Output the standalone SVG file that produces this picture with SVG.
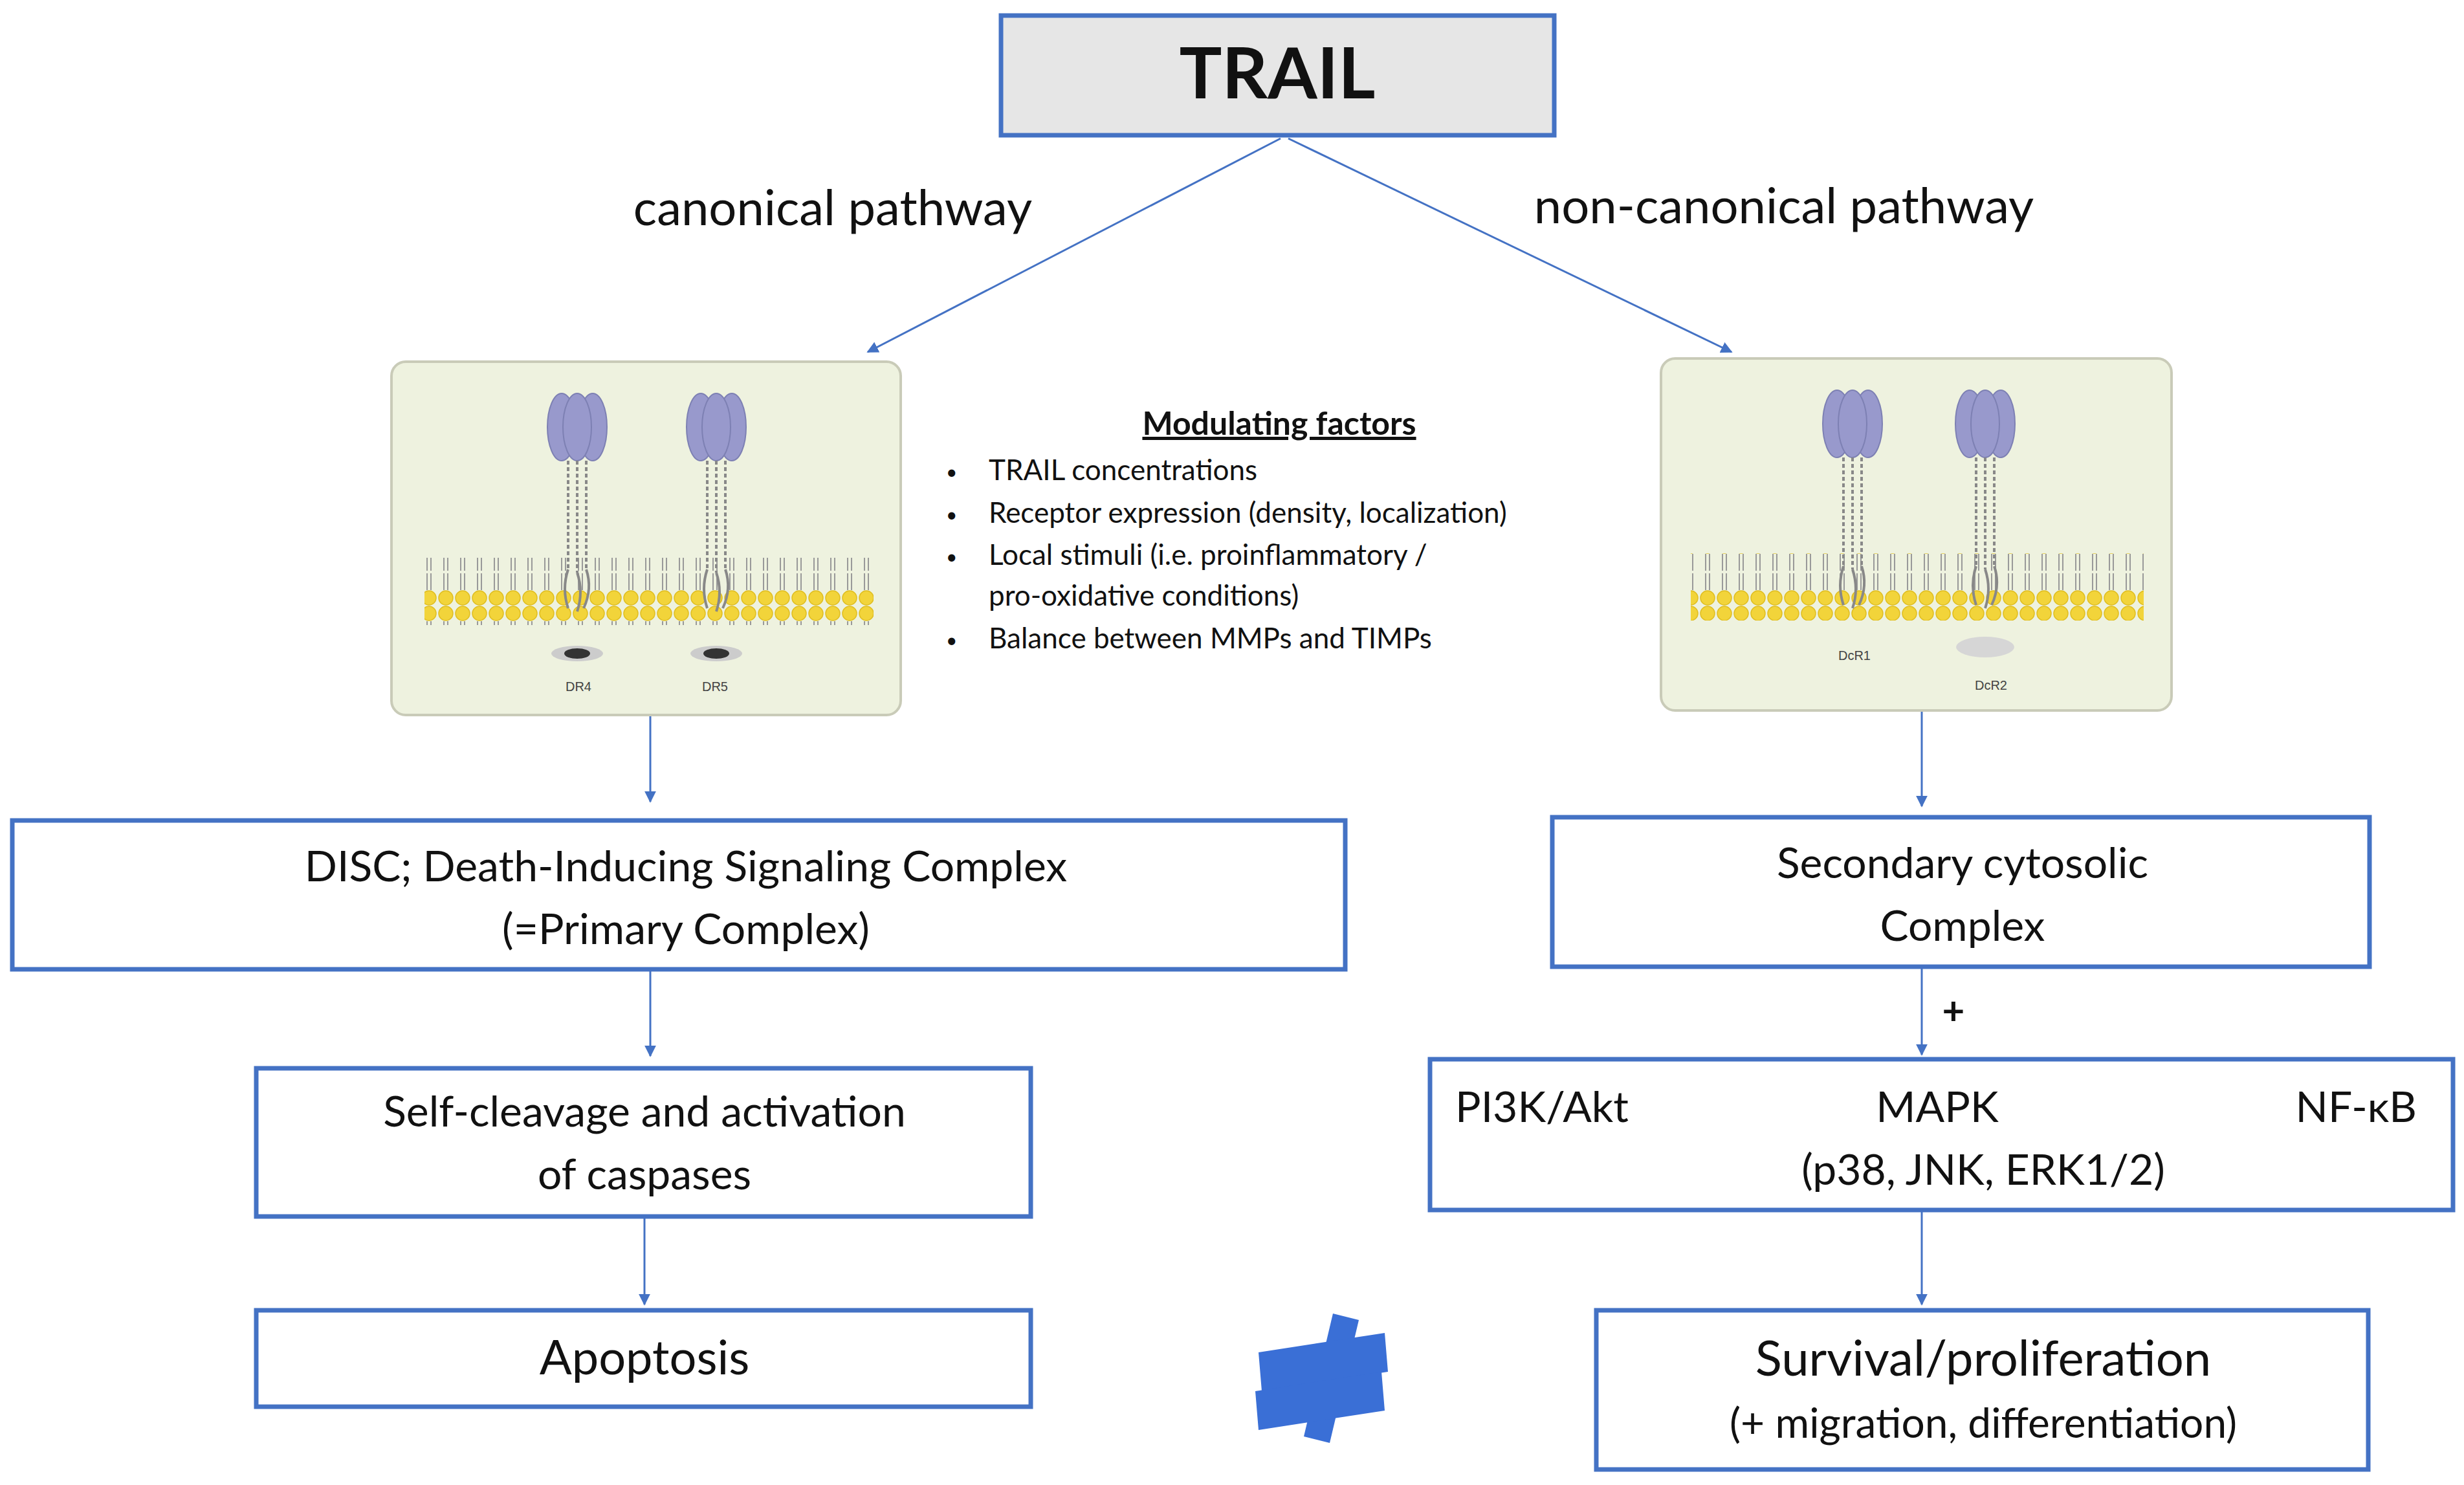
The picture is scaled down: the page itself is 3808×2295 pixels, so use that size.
<svg xmlns="http://www.w3.org/2000/svg" width="3808" height="2295" viewBox="0 0 3808 2295">
<style>
.box{fill:#fff;stroke:#4472C4;stroke-width:7}
.t{font-family:Lato,"Liberation Sans",sans-serif;fill:#111;text-anchor:middle}
.c{stroke:#4472C4;stroke-width:3;fill:none;marker-end:url(#ah)}
.cell{fill:#eef2df;stroke:#c9cbb8;stroke-width:4}
.rec{fill:#9899cc;stroke:#7d80b3;stroke-width:2}
.stalk{stroke:#888;stroke-width:4;fill:none;stroke-dasharray:6 4}
.lab{font-family:"Liberation Sans",sans-serif;font-size:20px;fill:#444;text-anchor:middle}
</style>
<defs>
<marker id="ah" viewBox="0 0 10 10" refX="9" refY="5" markerWidth="6" markerHeight="6" orient="auto"><path d="M0,0L10,5L0,10z" fill="#4472C4"/></marker>
<pattern id="lip" x="0" y="0" width="26" height="104" patternUnits="userSpaceOnUse">
<circle cx="13" cy="12" r="11" fill="#f2d43a" stroke="#e0be20" stroke-width="1.5"/>
<path d="M10,24V50M16,24V50M10,54V80M16,54V80" stroke="#999" stroke-width="2"/>
<circle cx="13" cy="92" r="11" fill="#f2d43a" stroke="#e0be20" stroke-width="1.5"/>
</pattern>
<g id="rec3">
<ellipse cx="-24" cy="0" rx="22" ry="52" class="rec"/>
<ellipse cx="24" cy="0" rx="22" ry="52" class="rec"/>
<ellipse cx="0" cy="0" rx="22" ry="52" class="rec"/>
<path d="M-14,52V220 M0,52V225 M14,52V220" class="stalk"/>
<path d="M-14,220q-10,30 0,60 M0,225q10,30 0,60 M14,220q10,30 -4,60" stroke="#888" stroke-width="4" fill="none"/>
</g>
</defs>
<g id="trail"><rect x="1547" y="24" width="855" height="185" fill="#e6e6e6" stroke="#4472C4" stroke-width="7"/><text class="t" x="1974" y="152" font-size="110" font-weight="bold">TRAIL</text></g>
<g id="labels">
<text class="t" x="1287" y="348" font-size="76">canonical pathway</text>
<text class="t" x="2757" y="345" font-size="76">non-canonical pathway</text>
</g>
<g id="connectors">
<path class="c" d="M1979,214L1341,544"/>
<path class="c" d="M1991,214L2676,544"/>
<path class="c" d="M1005,1105V1239"/>
<path class="c" d="M2970,1098V1246"/>
<path class="c" d="M1005,1498V1632"/>
<path class="c" d="M996,1880V2016"/>
<path class="c" d="M2970,1494V1630"/>
<path class="c" d="M2970,1870V2016"/>
</g>
<g id="dr-cell">
<rect class="cell" x="605" y="559" width="787" height="546" rx="22"/>
<rect x="656" y="862" width="694" height="104" fill="url(#lip)"/>
<use href="#rec3" x="892" y="660"/>
<use href="#rec3" x="1107" y="660"/>
<ellipse cx="892" cy="1010" rx="40" ry="12" fill="#ccc"/><ellipse cx="892" cy="1010" rx="20" ry="8" fill="#333"/>
<ellipse cx="1107" cy="1010" rx="40" ry="12" fill="#ccc"/><ellipse cx="1107" cy="1010" rx="20" ry="8" fill="#333"/>
<text class="lab" x="894" y="1068">DR4</text><text class="lab" x="1105" y="1068">DR5</text>
</g>
<g id="dcr-cell">
<rect class="cell" x="2567" y="554" width="789" height="544" rx="22"/>
<rect x="2613" y="855" width="700" height="104" fill="url(#lip)"/>
<use href="#rec3" x="2863" y="655"/>
<use href="#rec3" x="3068" y="655"/>
<ellipse cx="3068" cy="1000" rx="45" ry="16" fill="#d6d6d6"/>
<text class="lab" x="2866" y="1020">DcR1</text><text class="lab" x="3077" y="1066">DcR2</text>
</g>
<g id="modulating" font-family="Lato,'Liberation Sans',sans-serif" font-size="44" fill="#111">
<text x="1977" y="672" font-size="50" font-weight="bold" text-anchor="middle" text-decoration="underline">Modulating factors</text>
<g font-size="30"><text x="1462" y="740">•</text><text x="1462" y="806">•</text><text x="1462" y="871">•</text><text x="1462" y="1000">•</text></g>
<text x="1528" y="742">TRAIL concentrations</text>
<text x="1528" y="808">Receptor expression (density, localization)</text>
<text x="1528" y="873">Local stimuli (i.e. proinflammatory /</text>
<text x="1528" y="936">pro-oxidative conditions)</text>
<text x="1528" y="1002">Balance between MMPs and TIMPs</text>
</g>
<g id="disc"><rect class="box" x="19" y="1268" width="2060" height="230"/>
<text class="t" x="1060" y="1362" font-size="66">DISC; Death-Inducing Signaling Complex</text>
<text class="t" x="1060" y="1459" font-size="66">(=Primary Complex)</text></g>
<g id="secondary"><rect class="box" x="2399" y="1263" width="1263" height="231"/>
<text class="t" x="3033" y="1357" font-size="66">Secondary cytosolic</text>
<text class="t" x="3033" y="1454" font-size="66">Complex</text></g>
<g id="caspases"><rect class="box" x="396" y="1651" width="1197" height="229"/>
<text class="t" x="996" y="1741" font-size="66">Self-cleavage and activation</text>
<text class="t" x="996" y="1838" font-size="66">of caspases</text></g>
<g id="apoptosis"><rect class="box" x="396" y="2025" width="1197" height="149"/>
<text class="t" x="996" y="2124" font-size="74">Apoptosis</text></g>
<g id="plus"><text class="t" x="3019" y="1583" font-size="60" font-weight="bold">+</text></g>
<g id="kinases"><rect class="box" x="2210" y="1637" width="1581" height="233"/>
<text class="t" x="2249" y="1734" font-size="66" text-anchor="start" style="text-anchor:start">PI3K/Akt</text>
<text class="t" x="2994" y="1734" font-size="66">MAPK</text>
<text class="t" x="3735" y="1734" font-size="66" style="text-anchor:end">NF-κB</text>
<text class="t" x="3065" y="1831" font-size="66">(p38, JNK, ERK1/2)</text></g>
<g id="survival"><rect class="box" x="2467" y="2025" width="1193" height="246"/>
<text class="t" x="3065" y="2126" font-size="76">Survival/proliferation</text>
<text class="t" x="3065" y="2222" font-size="64">(+ migration, differentiation)</text></g>
<g id="not-equal" fill="#3a6fd6">
<path d="M2060,2030L2100,2040L2055,2230L2015,2220Z"/>
<path d="M1945,2090L2140,2060L2145,2120L1950,2150Z"/>
<path d="M1940,2150L2135,2120L2140,2180L1945,2210Z"/>
</g>
</svg>
